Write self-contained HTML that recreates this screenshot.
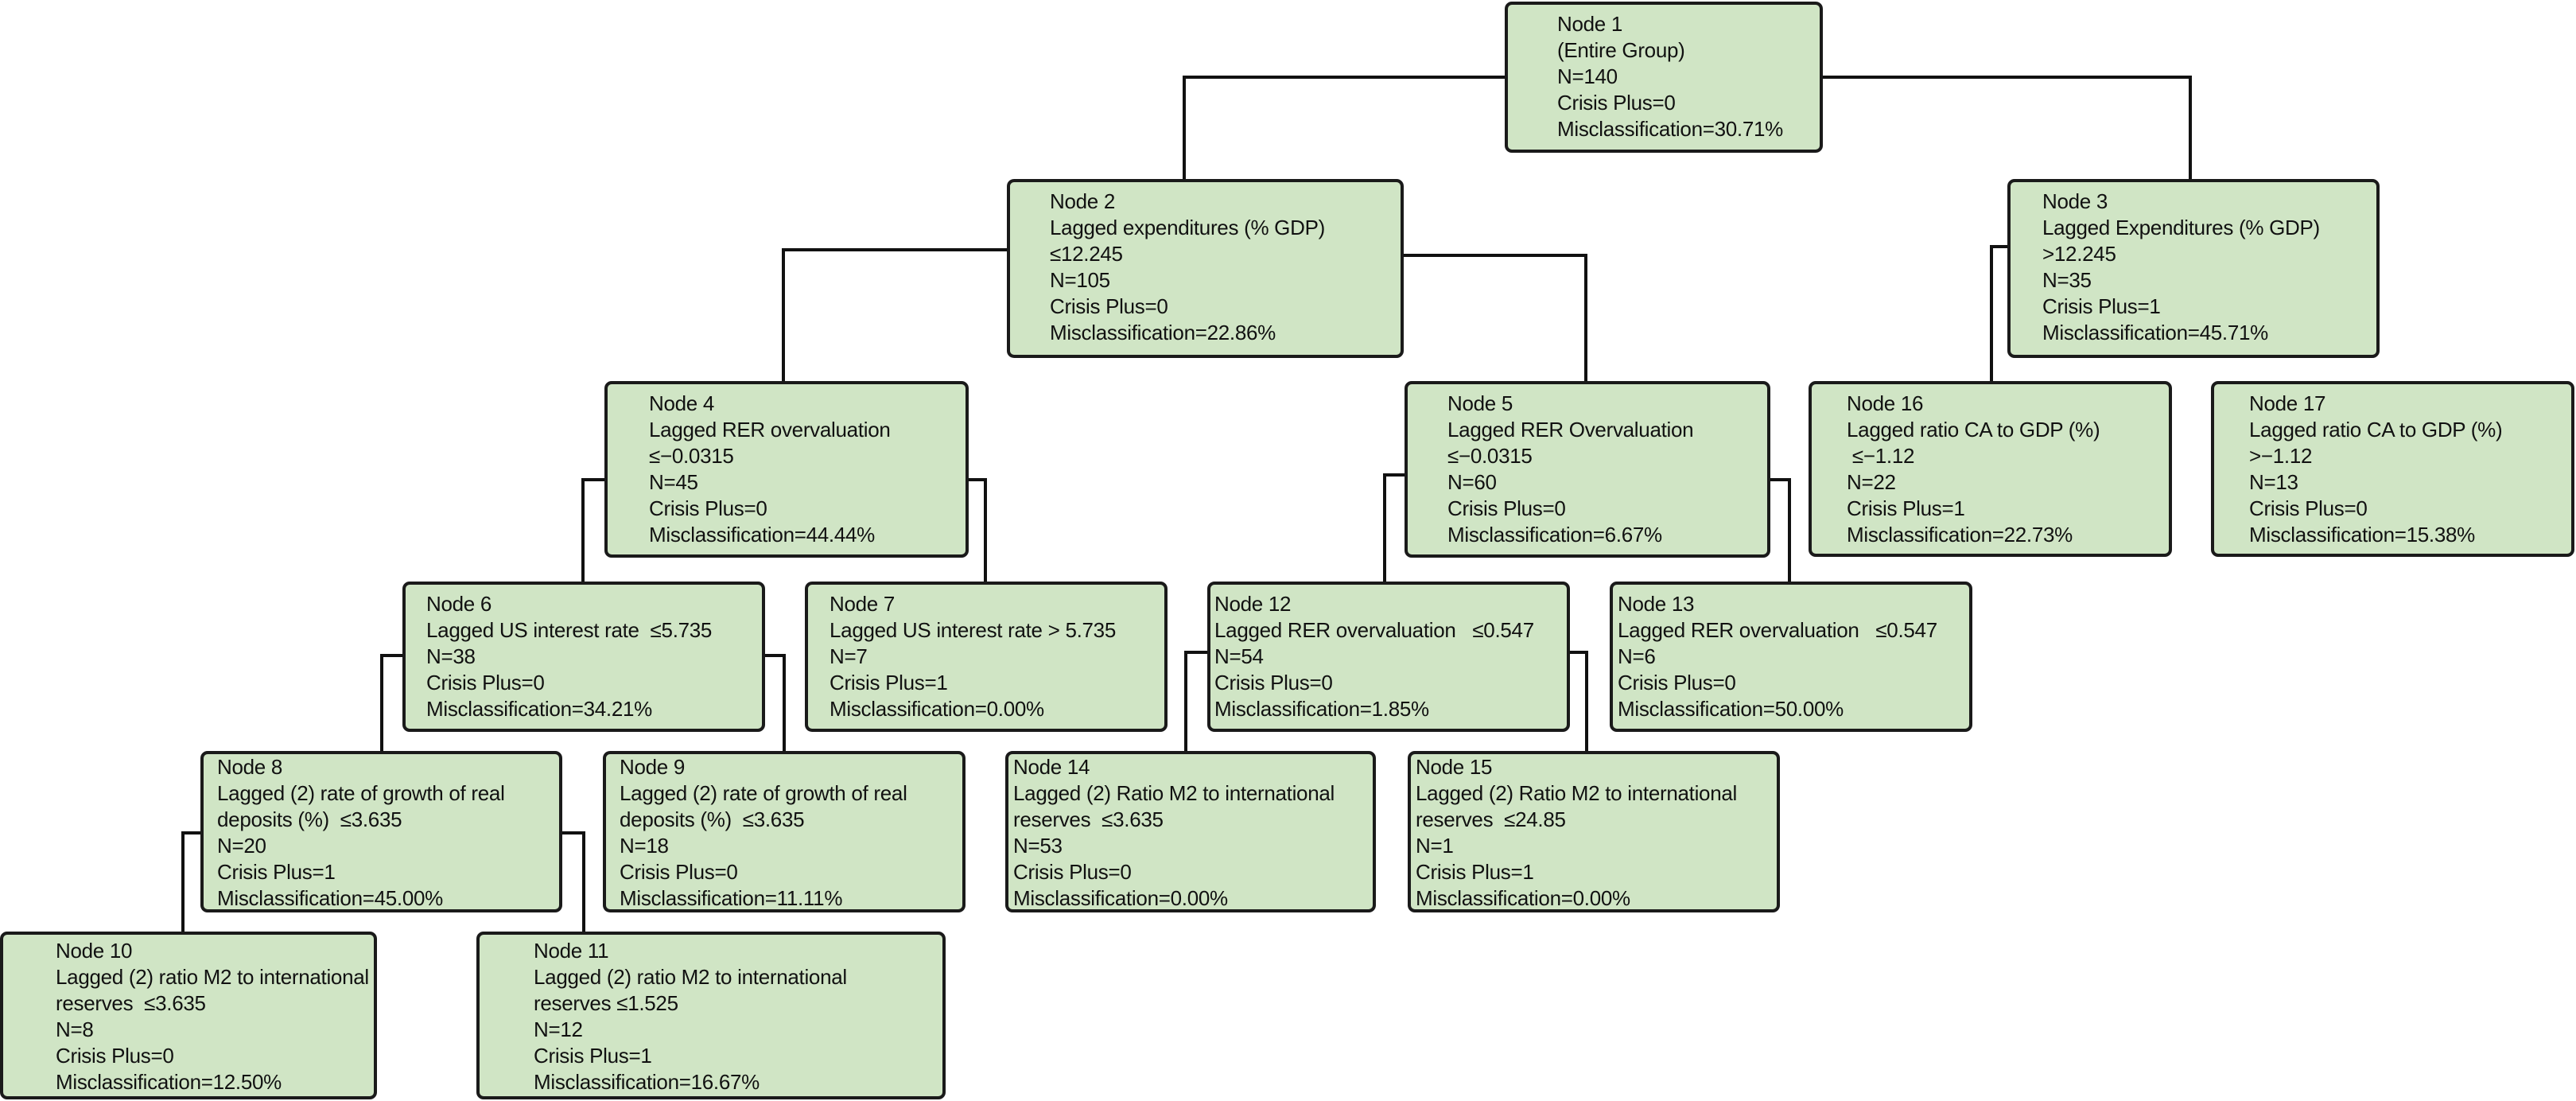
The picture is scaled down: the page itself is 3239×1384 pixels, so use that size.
<!DOCTYPE html>
<html><head><meta charset="utf-8"><style>
body{margin:0;width:3239px;height:1384px;background:#fff;position:relative;overflow:hidden;font-family:"Liberation Sans",Arial,sans-serif;}
.n{position:absolute;box-sizing:border-box;border:4px solid #1a1a1a;border-radius:9px;background:#d0e5c5;font-size:26px;line-height:33px;color:#111;white-space:pre;letter-spacing:-0.3px;}
.h{position:absolute;background:#111;height:4px;}
.v{position:absolute;background:#111;width:4px;}
</style></head><body>
<!-- connectors -->
<div class="h" style="left:1487px;top:95px;width:405px"></div><div class="v" style="left:1487px;top:95px;height:132px"></div>
<div class="h" style="left:2291px;top:95px;width:465px"></div><div class="v" style="left:2752px;top:95px;height:132px"></div>
<div class="h" style="left:983px;top:312px;width:285px"></div><div class="v" style="left:983px;top:312px;height:169px"></div>
<div class="h" style="left:1764px;top:319px;width:232px"></div><div class="v" style="left:1992px;top:319px;height:162px"></div>
<div class="h" style="left:2502px;top:308px;width:24px"></div><div class="v" style="left:2502px;top:308px;height:173px"></div>
<div class="h" style="left:731px;top:601px;width:31px"></div><div class="v" style="left:731px;top:601px;height:132px"></div>
<div class="h" style="left:1215px;top:601px;width:26px"></div><div class="v" style="left:1237px;top:601px;height:132px"></div>
<div class="h" style="left:1739px;top:595px;width:29px"></div><div class="v" style="left:1739px;top:595px;height:138px"></div>
<div class="h" style="left:2223px;top:601px;width:29px"></div><div class="v" style="left:2248px;top:601px;height:132px"></div>
<div class="h" style="left:478px;top:822px;width:30px"></div><div class="v" style="left:478px;top:822px;height:124px"></div>
<div class="h" style="left:959px;top:822px;width:29px"></div><div class="v" style="left:984px;top:822px;height:124px"></div>
<div class="h" style="left:1489px;top:818px;width:31px"></div><div class="v" style="left:1489px;top:818px;height:128px"></div>
<div class="h" style="left:1971px;top:818px;width:26px"></div><div class="v" style="left:1993px;top:818px;height:128px"></div>
<div class="h" style="left:228px;top:1045px;width:26px"></div><div class="v" style="left:228px;top:1045px;height:128px"></div>
<div class="h" style="left:704px;top:1045px;width:30px"></div><div class="v" style="left:732px;top:1045px;height:128px"></div>
<!-- nodes -->
<div class="n" style="left:1892px;top:2px;width:400px;height:190px;padding:8px 0 0 62px">Node 1
(Entire Group)
N=140
Crisis Plus=0
Misclassification=30.71%</div>
<div class="n" style="left:1266px;top:225px;width:499px;height:225px;padding:8px 0 0 50px">Node 2
Lagged expenditures (% GDP)
≤12.245
N=105
Crisis Plus=0
Misclassification=22.86%</div>
<div class="n" style="left:2524px;top:225px;width:468px;height:225px;padding:8px 0 0 40px">Node 3
Lagged Expenditures (% GDP)
&gt;12.245
N=35
Crisis Plus=1
Misclassification=45.71%</div>
<div class="n" style="left:760px;top:479px;width:458px;height:222px;padding:8px 0 0 52px">Node 4
Lagged RER overvaluation
≤−0.0315
N=45
Crisis Plus=0
Misclassification=44.44%</div>
<div class="n" style="left:1766px;top:479px;width:460px;height:222px;padding:8px 0 0 50px">Node 5
Lagged RER Overvaluation
≤−0.0315
N=60
Crisis Plus=0
Misclassification=6.67%</div>
<div class="n" style="left:2274px;top:479px;width:457px;height:221px;padding:8px 0 0 44px">Node 16
Lagged ratio CA to GDP (%)
 ≤−1.12
N=22
Crisis Plus=1
Misclassification=22.73%</div>
<div class="n" style="left:2780px;top:479px;width:457px;height:221px;padding:8px 0 0 44px">Node 17
Lagged ratio CA to GDP (%)
&gt;−1.12
N=13
Crisis Plus=0
Misclassification=15.38%</div>
<div class="n" style="left:506px;top:731px;width:456px;height:189px;padding:8px 0 0 26px">Node 6
Lagged US interest rate  ≤5.735
N=38
Crisis Plus=0
Misclassification=34.21%</div>
<div class="n" style="left:1012px;top:731px;width:456px;height:189px;padding:8px 0 0 27px">Node 7
Lagged US interest rate &gt; 5.735
N=7
Crisis Plus=1
Misclassification=0.00%</div>
<div class="n" style="left:1518px;top:731px;width:456px;height:189px;padding:8px 0 0 5px">Node 12
Lagged RER overvaluation   ≤0.547
N=54
Crisis Plus=0
Misclassification=1.85%</div>
<div class="n" style="left:2024px;top:731px;width:456px;height:189px;padding:8px 0 0 6px">Node 13
Lagged RER overvaluation   ≤0.547
N=6
Crisis Plus=0
Misclassification=50.00%</div>
<div class="n" style="left:252px;top:944px;width:455px;height:203px;padding:0 0 0 17px">Node 8
Lagged (2) rate of growth of real
deposits (%)  ≤3.635
N=20
Crisis Plus=1
Misclassification=45.00%</div>
<div class="n" style="left:758px;top:944px;width:456px;height:203px;padding:0 0 0 17px">Node 9
Lagged (2) rate of growth of real
deposits (%)  ≤3.635
N=18
Crisis Plus=0
Misclassification=11.11%</div>
<div class="n" style="left:1264px;top:944px;width:466px;height:203px;padding:0 0 0 6px">Node 14
Lagged (2) Ratio M2 to international
reserves  ≤3.635
N=53
Crisis Plus=0
Misclassification=0.00%</div>
<div class="n" style="left:1770px;top:944px;width:468px;height:203px;padding:0 0 0 6px">Node 15
Lagged (2) Ratio M2 to international
reserves  ≤24.85
N=1
Crisis Plus=1
Misclassification=0.00%</div>
<div class="n" style="left:0px;top:1171px;width:474px;height:211px;padding:4px 0 0 66px">Node 10
Lagged (2) ratio M2 to international
reserves  ≤3.635
N=8
Crisis Plus=0
Misclassification=12.50%</div>
<div class="n" style="left:599px;top:1171px;width:590px;height:211px;padding:4px 0 0 68px">Node 11
Lagged (2) ratio M2 to international
reserves ≤1.525
N=12
Crisis Plus=1
Misclassification=16.67%</div>
</body></html>
